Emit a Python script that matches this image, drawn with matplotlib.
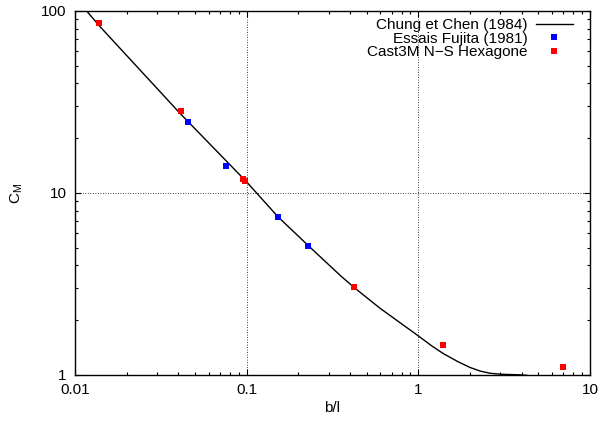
import matplotlib
matplotlib.use("Agg")
import matplotlib.pyplot as plt
from matplotlib.ticker import FuncFormatter, LogLocator, NullFormatter

# Chung et Chen (1984) curve
chung_x = [0.0116, 0.0118, 0.014, 0.0409, 0.1, 0.152, 0.2275, 0.349, 0.42,
           0.597, 0.781, 1.0, 1.2, 1.4, 1.7, 2.0, 2.3, 2.61, 3.0, 3.9, 4.3]
chung_y = [101, 99, 82, 27.4, 11.5, 7.41, 5.16, 3.54, 3.04,
           2.33, 1.94, 1.64, 1.443, 1.31, 1.184, 1.1, 1.05, 1.023, 1.01, 1.002, 0.995]
# Essais Fujita (1981)
fujita_x = [0.0455, 0.0757, 0.152, 0.2275]
fujita_y = [24.5, 14.1, 7.35, 5.13]
# Cast3M N-S Hexagone
cast_x = [0.0138, 0.0414, 0.0952, 0.0978, 0.422, 1.39, 6.95]
cast_y = [85.9, 28.2, 11.9, 11.6, 3.04, 1.46, 1.106]

plt.rcParams["font.family"] = ["Liberation Sans", "DejaVu Sans"]
plt.rcParams["font.size"] = 11

fig = plt.figure(figsize=(6.02, 4.24), dpi=100)
ax = fig.add_axes([75/602, 49/424, 515/602, 364/424])
ax.plot(chung_x, chung_y, color="black", lw=1.0, label="Chung et Chen (1984)")
ax.plot(fujita_x, fujita_y, ls="none", marker="s", ms=4.5, mew=0, color="#0000ff", label="Essais Fujita (1981)", zorder=3)
ax.plot(cast_x, cast_y, ls="none", marker="s", ms=4.5, mew=0, color="#ff0000", label="Cast3M N\u2212S Hexagone", zorder=3)
ax.set_xscale("log"); ax.set_yscale("log")
ax.set_xlim(0.01, 10); ax.set_ylim(1, 100)
fmt = FuncFormatter(lambda v, _: f"{v:g}")
ax.xaxis.set_major_formatter(fmt); ax.yaxis.set_major_formatter(fmt)
ax.xaxis.set_minor_locator(LogLocator(base=10, subs=range(2, 10)))
ax.yaxis.set_minor_locator(LogLocator(base=10, subs=range(2, 10)))
ax.xaxis.set_minor_formatter(NullFormatter()); ax.yaxis.set_minor_formatter(NullFormatter())
ax.tick_params(which="both", direction="in", top=True, right=True, width=0.8)
ax.tick_params(which="major", length=4.5)
ax.tick_params(axis="x", which="major", pad=6)
ax.tick_params(axis="y", which="major", pad=6)
ax.tick_params(which="minor", length=2.5)
ax.grid(which="major", ls=(0, (1, 2)), color="black", lw=0.6)
for s in ax.spines.values(): s.set_linewidth(1.0)
ax.set_xlabel("b/l", labelpad=3)
ax.set_ylabel(r"C$_\mathregular{M}$", labelpad=12)
ax.legend(loc="upper right", markerfirst=False, frameon=False, handlelength=2.4, handletextpad=0.55,
          labelspacing=-0.03, borderaxespad=0.0, bbox_to_anchor=(0.978, 0.997), fontsize=11)
fig.savefig("out.png", dpi=100)
